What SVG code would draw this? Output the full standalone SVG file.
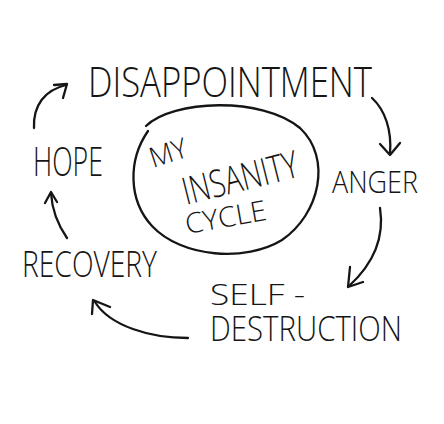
<svg xmlns="http://www.w3.org/2000/svg" width="444" height="424" viewBox="0 0 444 424">
<style>
.t{font-family:"Open Sans","Liberation Sans",sans-serif;font-weight:300;fill:#151515}
.c{fill:none;stroke:#151515;stroke-width:2.3;stroke-linecap:round;stroke-linejoin:round}
</style>
<rect width="444" height="424" fill="#ffffff"/>
<g id="disappointment"><text class="t" x="88" y="97" font-size="42" textLength="284" lengthAdjust="spacingAndGlyphs">DISAPPOINTMENT</text></g>
<g id="anger"><text class="t" x="332" y="193" font-size="32" textLength="86" lengthAdjust="spacingAndGlyphs">ANGER</text></g>
<g id="self-destruction">
<text class="t"><tspan x="210" y="305" font-size="30" textLength="95" lengthAdjust="spacingAndGlyphs">SELF -</tspan><tspan x="210" y="341" font-size="34" textLength="192" lengthAdjust="spacingAndGlyphs">DESTRUCTION</tspan></text>
</g>
<g id="recovery"><text class="t" x="22" y="277" font-size="37" textLength="135" lengthAdjust="spacingAndGlyphs">RECOVERY</text></g>
<g id="hope"><text class="t" x="33" y="176" font-size="41" textLength="70" lengthAdjust="spacingAndGlyphs">HOPE</text></g>
<g id="center">
<path class="c" d="M146,126 C172,100 262,96 300,128 C332,158 320,214 282,240 C246,262 182,258 152,226 C128,200 128,160 148,131"/>
<text class="t" font-size="28" textLength="38" lengthAdjust="spacingAndGlyphs" transform="translate(153,168) rotate(-18)">MY</text>
<text class="t" font-size="38" textLength="118" lengthAdjust="spacingAndGlyphs" transform="translate(186,205) rotate(-14)">INSANITY</text>
<text class="t" font-size="28" textLength="82" lengthAdjust="spacingAndGlyphs" transform="translate(187,234) rotate(-10)">CYCLE</text>
</g>
<g id="connectors">
<path class="c" d="M34,128 C33,105 45,90 66,85"/>
<path class="c" d="M54,85 L67,84 L63,98"/>
<path class="c" d="M372,98 C385,110 392,130 390,154"/>
<path class="c" d="M380,144 L390,155 L400,143"/>
<path class="c" d="M380,208 C385,240 372,265 349,286"/>
<path class="c" d="M350,267 L348,287 L363,282"/>
<path class="c" d="M188,338 C150,338 110,326 95,302"/>
<path class="c" d="M110,307 L93,300 L92,314"/>
<path class="c" d="M67,238 C58,225 52,210 51,193"/>
<path class="c" d="M45,203 L51,192 L57,202"/>
</g>
</svg>
